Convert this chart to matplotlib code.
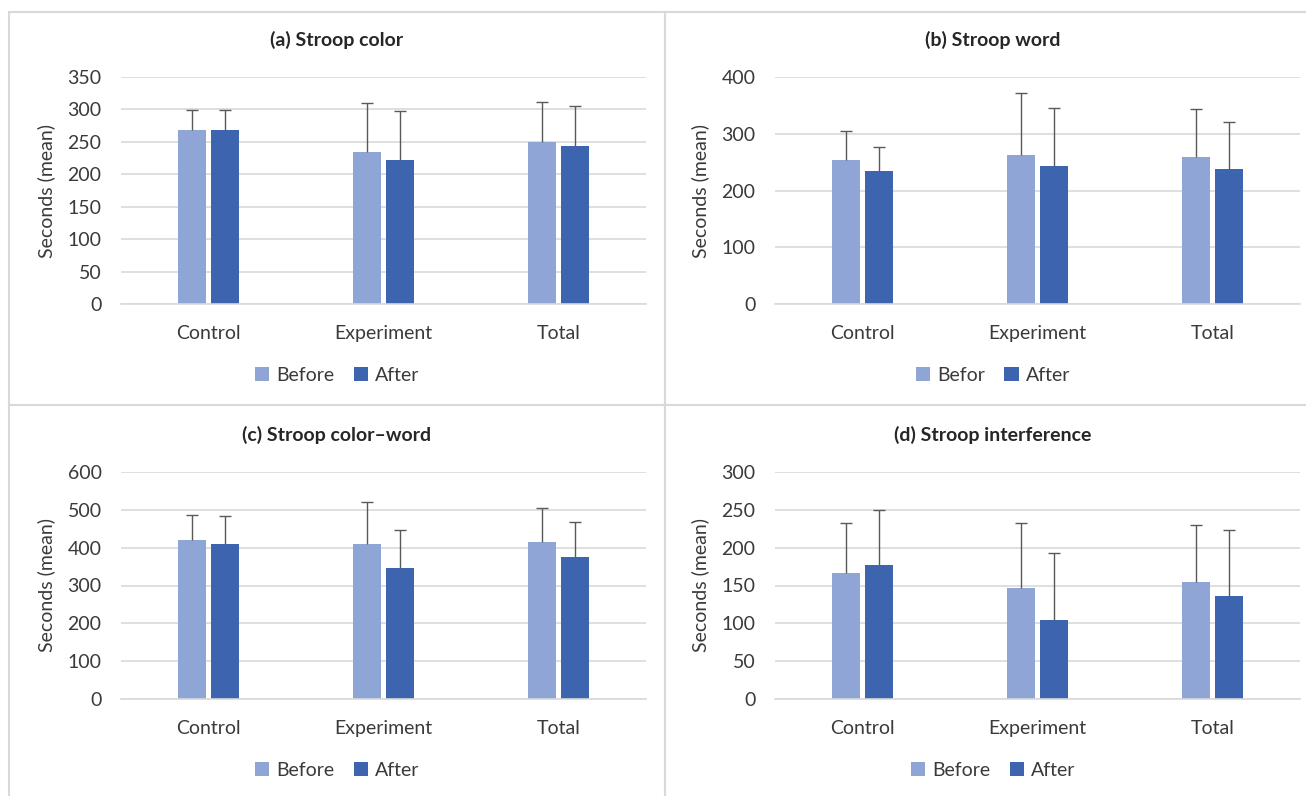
import matplotlib.pyplot as plt
from matplotlib.patches import Rectangle
import numpy as np

plt.rcParams['font.family'] = ['Lato', 'DejaVu Sans']

groups = ["Control", "Experiment", "Total"]

titles = ["(a) Stroop color", "(b) Stroop word",
          "(c) Stroop color\u2013word", "(d) Stroop interference"]
legend_before = ["Before", "Befor", "Before", "Before"]

# means and upper error bars (sd)
color_before = [269, 234, 250]
color_after = [269, 222, 244]
color_before_err = [30, 76, 62]
color_after_err = [30, 75, 62]

word_before = [254, 262, 259]
word_after = [234, 243, 238]
word_before_err = [51, 110, 85]
word_after_err = [43, 103, 82]

cw_before = [421, 409, 414]
cw_after = [411, 347, 376]
cw_before_err = [65, 113, 91]
cw_after_err = [72, 100, 93]

inter_before = [167, 147, 155]
inter_after = [177, 104, 136]
inter_before_err = [65, 85, 75]
inter_after_err = [73, 89, 88]

ymax = [350, 400, 600, 300]
ystep = [50, 100, 100, 50]

panels = [
    (color_before, color_after, color_before_err, color_after_err),
    (word_before, word_after, word_before_err, word_after_err),
    (cw_before, cw_after, cw_before_err, cw_after_err),
    (inter_before, inter_after, inter_before_err, inter_after_err),
]

c_before = "#8FA5D6"
c_after = "#3D64AE"
grid_c = "#D9D9D9"
txt_c = "#3A3A3A"

W, H = 1306, 796
fig = plt.figure(figsize=(W / 100, H / 100), dpi=100)

# panel frames
for x0, y0, w, h in [(9, 12, 656, 393), (665, 12, 660, 393),
                     (9, 405, 656, 400), (665, 405, 660, 400)]:
    fig.patches.append(Rectangle((x0 / W, 1 - (y0 + h) / H), w / W, h / H,
                                 transform=fig.transFigure, fill=False,
                                 ec=grid_c, lw=1.5))

ax_left = [121, 775, 121, 775]
ax_top = [77, 77, 472, 472]
panel_cx = [337, 993, 337, 993]
x = np.arange(len(groups))
bw = 0.16
off = 0.097


def upper_err(ax, xs, ys, err):
    eb = ax.errorbar(xs, ys, yerr=[np.zeros(len(ys)), err], fmt="none",
                     ecolor="#595959", elinewidth=1, capsize=4, capthick=1,
                     zorder=3)
    eb[1][0].set_visible(False)  # hide the lower cap


for i, (b, a, be, ae) in enumerate(panels):
    ax = fig.add_axes([ax_left[i] / W, 1 - (ax_top[i] + 227) / H, 525 / W, 227 / H])
    ax.bar(x - off, b, bw, color=c_before, label=legend_before[i], zorder=2)
    ax.bar(x + off, a, bw, color=c_after, label="After", zorder=2)
    upper_err(ax, x - off, b, be)
    upper_err(ax, x + off, a, ae)
    ax.set_xlim(-0.5, 2.5)
    ax.set_ylim(0, ymax[i])
    ax.set_yticks(np.arange(0, ymax[i] + 1, ystep[i]))
    ax.yaxis.grid(True, color=grid_c, lw=1.2, zorder=0)
    ax.set_axisbelow(True)
    for s in ["top", "right", "left"]:
        ax.spines[s].set_visible(False)
    ax.spines["bottom"].set_color(grid_c)
    ax.spines["bottom"].set_linewidth(1.2)
    ax.tick_params(length=0, labelsize=14, colors=txt_c)
    ax.tick_params(axis="x", pad=15)
    ax.tick_params(axis="y", pad=14)
    ax.set_xticks(x)
    ax.set_xticklabels(groups)
    ax.set_ylabel("Seconds (mean)", fontsize=14, color=txt_c, labelpad=9)
    fig.text(panel_cx[i] / W, 1 - (ax_top[i] - 37) / H, titles[i],
             ha="center", va="center", fontsize=14, fontweight="bold", color="#262626")
    fig.legend(*ax.get_legend_handles_labels(), loc="center",
               bbox_to_anchor=(panel_cx[i] / W, 1 - (ax_top[i] + 298) / H),
               ncol=2, frameon=False, fontsize=14, handlelength=0.75,
               handleheight=0.75, handletextpad=0.35, columnspacing=1.0,
               labelcolor=txt_c)

fig.savefig("out.png", dpi=100, facecolor="white")
